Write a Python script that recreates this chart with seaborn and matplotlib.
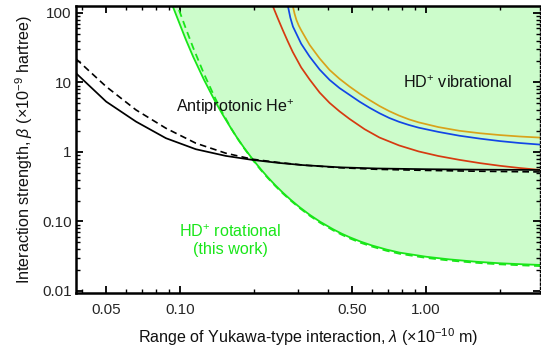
import numpy as np
import pandas as pd
import matplotlib
matplotlib.use("Agg")
import matplotlib.pyplot as plt
import matplotlib.ticker as mticker
import seaborn as sns

# ---- data ----
# Antiprotonic He+ bound (solid and dashed black)
pbar_x = [0.0377, 0.0500, 0.0661, 0.0875, 0.1158, 0.1533, 0.1967, 0.2512, 0.3162,
          0.4467, 0.6310, 1.000, 1.585, 2.91]
pbar_solid_y = [13.56, 5.29, 2.73, 1.575, 1.093, 0.876, 0.767, 0.695, 0.646,
                0.600, 0.578, 0.564, 0.556, 0.550]
pbar_dashed_y = [21.8, 8.70, 4.02, 2.19, 1.334, 0.958, 0.785, 0.705, 0.646,
                 0.592, 0.562, 0.542, 0.528, 0.515]

# HD+ rotational (this work), solid and dashed green
rot_x = [0.0870, 0.0937, 0.1053, 0.1129, 0.125, 0.1389, 0.148, 0.1613, 0.170, 0.1818,
         0.198, 0.2128, 0.2273, 0.2439, 0.2618, 0.2817, 0.3058, 0.336, 0.3704, 0.4184,
         0.4545, 0.489, 0.5405, 0.600, 0.6897, 0.780, 1.000, 1.244, 1.600, 1.98, 2.50, 2.91]
rot_solid_y = [251, 119.4, 41.7, 23.4, 10.88, 5.29, 3.56, 2.156, 1.618, 1.149,
               0.767, 0.5617, 0.4302, 0.330, 0.2583, 0.2042, 0.1603, 0.1247, 0.0991, 0.0772,
               0.0665, 0.0592, 0.0514, 0.0453, 0.0394, 0.0356, 0.03105, 0.02844, 0.0263,
               0.02506, 0.02415, 0.02366]
rot_dashed_y = [398, 184.9, 60.3, 31.6, 13.23, 5.87, 3.75, 2.17, 1.603, 1.131,
                0.7516, 0.5489, 0.4204, 0.3225, 0.2518, 0.1991, 0.1560, 0.1211, 0.0959, 0.0746,
                0.0643, 0.0571, 0.0495, 0.0437, 0.0379, 0.0343, 0.0299, 0.0274, 0.0254,
                0.0242, 0.0233, 0.0228]

# HD+ vibrational bounds (red, blue, orange)
vib_red_x = [0.2317, 0.2384, 0.2495, 0.2611, 0.2735, 0.2867, 0.3105, 0.3360, 0.3690,
             0.4050, 0.4446, 0.4883, 0.5623, 0.6463, 0.7762, 0.9333, 1.122, 1.365,
             1.660, 2.000, 2.399, 2.91]
vib_red_y = [158.5, 123.2, 83.2, 56.9, 39.3, 27.5, 16.4, 11.0, 7.14,
             5.07, 3.83, 2.98, 2.12, 1.61, 1.24, 1.015, 0.873, 0.769,
             0.689, 0.631, 0.587, 0.551]
vib_blue_x = [0.2661, 0.2744, 0.2805, 0.2874, 0.3105, 0.3360, 0.3690, 0.4050, 0.4446,
              0.4883, 0.5370, 0.5886, 0.6463, 0.7079, 0.7762, 0.8511, 0.9333, 1.122,
              1.365, 1.660, 2.000, 2.399, 2.91]
vib_blue_y = [213.8, 123.2, 85.1, 63.5, 35.9, 23.5, 15.3, 10.86, 8.28,
              6.61, 5.26, 4.32, 3.60, 3.08, 2.71, 2.44, 2.23, 1.94,
              1.71, 1.55, 1.43, 1.343, 1.274]
vib_orange_x = [0.2786, 0.2874, 0.2917, 0.2968, 0.3034, 0.3105, 0.3360, 0.3690, 0.4050,
                0.4446, 0.4883, 0.5370, 0.5886, 0.6463, 0.7079, 0.7762, 0.8511, 0.9333,
                1.122, 1.365, 1.660, 2.000, 2.399, 2.91]
vib_orange_y = [199.5, 123.2, 97.7, 79.3, 65.8, 56.2, 34.6, 22.1, 15.1,
                11.25, 8.71, 6.87, 5.58, 4.57, 3.86, 3.33, 2.94, 2.66,
                2.275, 2.014, 1.854, 1.746, 1.667, 1.607]

x_ticks = [0.05, 0.10, 0.50, 1.00]
x_tick_labels = ["0.05", "0.10", "0.50", "1.00"]
y_ticks = [0.01, 0.10, 1, 10, 100]
y_tick_labels = ["0.01", "0.10", "1", "10", "100"]

# ---- style ----
sns.set_theme(style="ticks")
plt.rcParams["font.family"] = ["Liberation Sans", "DejaVu Sans"]
plt.rcParams["mathtext.fontset"] = "custom"
plt.rcParams["mathtext.rm"] = "Liberation Sans"
plt.rcParams["mathtext.it"] = "Liberation Sans:italic"
plt.rcParams["mathtext.default"] = "regular"

FS = 11
FS_TXT = 11.6
GREEN = "#19e619"
FILL = "#ccfccb"

fig = plt.figure(figsize=(5.41, 3.53), dpi=100)
ax = fig.add_axes([0.1405, 0.170, 0.858, 0.814])
ax.set_xscale("log")
ax.set_yscale("log")
XMIN, XMAX = 0.0377, 2.91
YMIN, YMAX = 0.00935, 127
ax.set_xlim(XMIN, XMAX)
ax.set_ylim(YMIN, YMAX)

# shaded HD+ rotational excluded region
ax.fill_between(rot_x + [XMAX * 1.05], rot_solid_y + [rot_solid_y[-1]], 1e4,
                color=FILL, lw=0, zorder=0)

def line(x, y, color, ls="-", lw=1.25, z=2):
    df = pd.DataFrame({"x": x, "y": y})
    sns.lineplot(data=df, x="x", y="y", ax=ax, color=color, linestyle=ls,
                 linewidth=lw, estimator=None, sort=False, zorder=z)

line(rot_x, rot_solid_y, GREEN, "-", 1.3)
line(rot_x, rot_dashed_y, GREEN, (0, (4, 2.5)), 1.3)
line(vib_red_x, vib_red_y, "#d63a10", "-", 1.25)
line(vib_blue_x, vib_blue_y, "#1246e6", "-", 1.25)
line(vib_orange_x, vib_orange_y, "#d9a21a", "-", 1.25)
line(pbar_x, pbar_solid_y, "black", "-", 1.25, 3)
line(pbar_x, pbar_dashed_y, "black", (0, (4, 2.5)), 1.2, 3)

# annotations
ax.text(0.1675, 4.45, "Antiprotonic He$^{+}$", fontsize=FS_TXT, ha="center", va="center",
        color="#111111")
ax.text(1.34, 9.8, "HD$^{+}$ vibrational", fontsize=FS_TXT, ha="center", va="center",
        color="#111111")
ax.text(0.16, 0.054, "HD$^{+}$ rotational\n(this work)", fontsize=FS_TXT, ha="center",
        va="center", color=GREEN, linespacing=1.2)

# axes & ticks
ax.xaxis.set_major_locator(mticker.FixedLocator(x_ticks))
ax.xaxis.set_major_formatter(mticker.FixedFormatter(x_tick_labels))
ax.xaxis.set_minor_locator(mticker.LogLocator(base=10, subs=np.arange(1, 10) * 1.0, numticks=20))
ax.xaxis.set_minor_formatter(mticker.NullFormatter())
ax.yaxis.set_major_locator(mticker.FixedLocator(y_ticks))
ax.yaxis.set_major_formatter(mticker.FixedFormatter(y_tick_labels))
ax.yaxis.set_minor_locator(mticker.LogLocator(base=10, subs=np.arange(2, 10) * 1.0, numticks=20))
ax.yaxis.set_minor_formatter(mticker.NullFormatter())

ax.tick_params(which="both", direction="in", top=True, right=True, labelsize=FS, color="black")
ax.tick_params(which="major", length=5, width=1.3)
ax.tick_params(which="minor", length=2.8, width=1.0)
ax.tick_params(axis="x", which="major", pad=7)
ax.tick_params(axis="y", which="major", pad=3)

for s in ["left", "bottom", "top"]:
    ax.spines[s].set_linewidth(1.8)
    ax.spines[s].set_color("black")
ax.spines["right"].set_linewidth(1.0)
ax.spines["right"].set_linestyle((0, (1.5, 1.5)))
ax.spines["right"].set_color("black")

ax.set_xlabel(r"Range of Yukawa-type interaction, $\mathit{\lambda}$ ($\times$10$^{-10}$ m)",
              fontsize=FS_TXT, labelpad=7, color="#111111")
ax.set_ylabel(r"Interaction strength, $\mathit{\beta}$ ($\times$10$^{-9}$ hartree)",
              fontsize=FS_TXT, labelpad=5, color="#111111")

fig.savefig("out.png", dpi=100)
